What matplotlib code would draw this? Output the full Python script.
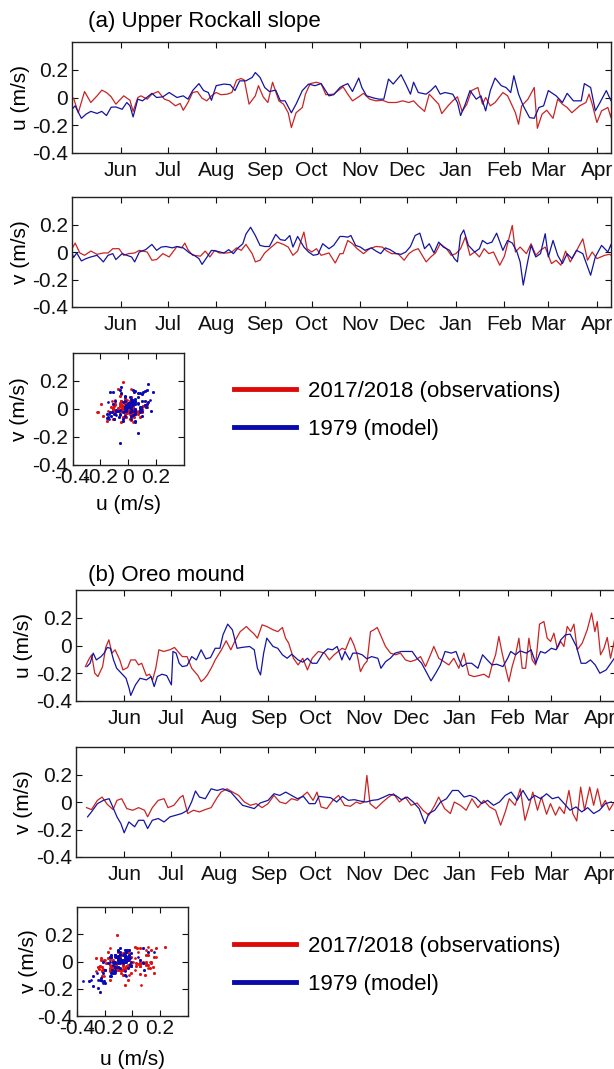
import numpy as np
import pandas as pd
import matplotlib
matplotlib.use('Agg')
import matplotlib.pyplot as plt
from matplotlib.lines import Line2D

plt.rcParams['font.family'] = ['Liberation Sans', 'DejaVu Sans']
plt.rcParams['axes.unicode_minus'] = False

# ---- data (days since 1 May, values in m/s) ----
START = pd.Timestamp('2017-05-01')
month_labels = ['Jun', 'Jul', 'Aug', 'Sep', 'Oct', 'Nov', 'Dec', 'Jan', 'Feb', 'Mar', 'Apr']
month_starts = ['2017-06-01', '2017-07-01', '2017-08-01', '2017-09-01', '2017-10-01',
                '2017-11-01', '2017-12-01', '2018-01-01', '2018-02-01', '2018-03-01',
                '2018-04-01']
value_ticks = [-0.4, -0.2, 0, 0.2]
value_ticklabels = ['-0.4', '-0.2', '0', '0.2']

# (a) Upper Rockall slope, u
au_obs_day = [0, 1, 4, 8, 12, 16, 19, 22, 25, 28, 33, 37, 39, 42, 44, 48, 51, 55, 59, 62,
              66, 69, 71, 74, 77, 80, 83, 86, 89, 92, 95, 99, 102, 105, 108, 110, 113, 117, 119, 122,
              125, 128, 132, 135, 138, 140, 143, 147, 149, 152, 156, 159, 162, 167, 171,
              173, 176, 179, 183, 186, 190, 194, 198, 202, 207, 211, 215, 218, 221, 225, 228, 231, 234, 236, 240,
              243, 246, 249, 252, 255, 259, 262, 264, 267, 270, 275, 278, 280, 283, 285, 287, 291, 295, 297, 300,
              303, 307, 310, 313, 316, 319, 324, 328, 330, 332, 335, 338, 342, 344, 346]
au_obs = [0, -0.005, -0.11, 0.043, -0.036, 0.012, 0.053, 0.036, 0.005, -0.048,
          0.012, -0.02, -0.10, 0.0, 0.012, -0.012, 0.024, 0.043, -0.012, -0.024,
          -0.06, -0.043, -0.092, -0.036, 0.036, 0.043, -0.005, -0.024, 0.012, 0.036,
          0.02, 0.024, 0.036, 0.125, 0.137, 0.125, -0.048, 0.012, 0.085, 0.005,
          -0.036, 0.11, -0.024, -0.048, -0.11, -0.217, -0.11, -0.072, 0.024, 0.10,
          0.11, 0.10, 0.02, 0.024, 0.06,
          0.077, 0.024, -0.024, 0.005, 0.03, -0.012, -0.024, -0.02, -0.036, -0.036,
          -0.024, -0.036, -0.024, -0.06, -0.10, 0.024, -0.012, -0.048, -0.116, -0.06,
          -0.024, 0.005, -0.10, -0.048, 0.05, 0.072, -0.048, 0, -0.06, -0.036,
          0.036, 0.012, -0.036, -0.11, -0.193, -0.06, -0.012, 0.072, -0.222, -0.12,
          -0.092, -0.15, -0.012, -0.048, -0.072, -0.11, -0.06, -0.036, 0.024, -0.048,
          -0.18, -0.096, -0.072, -0.145, 0.05]
au_mod_day = [0, 2, 6, 9, 12, 16, 19, 22, 25, 28, 32, 35, 37, 39, 42, 45, 49, 51, 54, 58,
              62, 67, 71, 74, 77, 81, 84, 87, 89, 92, 97, 101, 104, 107, 111, 115, 117, 120, 123, 126,
              130, 133, 136, 140, 143, 147, 151, 155, 159, 164, 167, 171,
              173, 176, 179, 183, 185, 188, 193, 196, 199, 202, 205, 210, 213, 216, 218, 221, 226, 229, 232, 235,
              238, 243, 246, 248, 251, 254, 258, 261, 264, 267, 270, 274, 277, 280, 282, 285, 288, 292, 295, 298,
              301, 304, 309, 313, 316, 320, 325, 327, 331, 334, 337, 341, 344, 347]
au_mod = [-0.085, -0.06, -0.15, -0.12, -0.10, -0.115, -0.10, -0.13, -0.07, -0.068,
          -0.085, -0.036, -0.06, -0.14, -0.012, -0.024, 0.012, 0.03, 0.0, 0.005,
          0.036, 0.0, 0.012, -0.012, 0.05, 0.10, 0.05, 0.036, -0.02, 0.085,
          0.097, 0.092, 0.05, 0.12, 0.12, 0.145, 0.18, 0.145, 0.072, 0.043,
          0.053, -0.024, -0.024, -0.11, -0.048, 0.05, 0.097, 0.085, 0.10, 0.012,
          0.02, 0.072,
          0.085, 0.10, 0.043, 0.14, 0.072, 0.012, -0.005, -0.012, -0.012, 0.133,
          0.097, 0.164, 0.097, 0.024, 0.11, 0.036, 0.024, 0.05, 0.085, 0.024,
          0.036, 0.024, -0.036, -0.13, -0.048, 0.05, -0.012, 0.012, -0.096, 0.05,
          0.14, 0.085, 0.072, 0.036, 0.157, 0.024, -0.06, -0.145, -0.15, -0.072,
          -0.06, 0.05, 0.012, -0.036, 0.03, -0.024, -0.024, 0.10, 0.072, -0.096,
          -0.036, 0.05, -0.024, 0.05]

# (a) Upper Rockall slope, v
av_obs_day = [0, 2, 5, 8, 12, 16, 20, 23, 26, 30, 33, 36, 40, 43, 48, 51, 54, 58, 62, 67,
              70, 72, 74, 77, 82, 85, 88, 91, 94, 99, 102, 105, 108, 111, 115, 117, 120, 123, 126, 131,
              135, 138, 141, 144, 148, 150, 153, 156, 159, 164, 168, 171,
              173, 176, 179, 182, 186, 190, 194, 198, 201, 204, 208, 212, 215, 218, 221, 226, 229, 232, 235, 239,
              242, 245, 248, 251, 254, 257, 260, 263, 266, 269, 273, 276, 278, 281, 283, 286, 290, 293, 296, 299,
              302, 306, 309, 312, 315, 318, 321, 326, 329, 332, 335, 340, 343, 346]
av_obs = [0.024, 0.065, -0.007, -0.024, 0.007, -0.017, -0.007, -0.007, 0.024, 0.024,
          -0.024, -0.012, -0.007, 0.012, 0, -0.06, -0.055, -0.012, -0.036, 0.04,
          0.03, 0.065, 0.017, -0.024, -0.03, 0.007, -0.036, 0.012, -0.007, -0.007,
          0, 0.03, 0.012, 0.055, -0.012, -0.072, -0.06, -0.007, 0.024, 0.072,
          0.055, 0.036, -0.024, 0.007, 0.145, 0.024, 0, 0.024, -0.024, -0.007,
          -0.08, -0.012,
          -0.012, 0.084, 0.06, 0.024, -0.012, 0.024, 0.04, 0.036, 0.007, -0.012,
          -0.012, -0.06, -0.012, 0.012, 0.024, -0.072, -0.036, -0.007, 0.06, 0.024,
          -0.024, -0.012, 0.024, 0.108, -0.024, 0, -0.036, 0.024, -0.012, 0,
          -0.096, -0.03, 0.06, 0.193, 0, 0.036, -0.012, 0.06, -0.024, 0.012,
          0.036, -0.084, -0.06, -0.096, 0.007, -0.072, -0.012, 0.096, -0.06, 0,
          -0.048, -0.024, -0.017, -0.036]
av_mod_day = [0, 1, 3, 6, 9, 12, 16, 20, 23, 26, 28, 32, 35, 38, 40, 43, 47, 51, 54, 57,
              60, 64, 67, 71, 75, 78, 81, 83, 86, 89, 92, 97, 100, 103, 106, 109, 111, 114, 117, 120,
              123, 126, 130, 133, 136, 139, 141, 144, 148, 151, 154, 157, 160, 164, 167, 171,
              173, 176, 178, 181, 184, 187, 191, 194, 197, 200, 203, 207, 210, 213, 216, 219, 222, 225, 228, 231,
              234, 237, 241, 244, 246, 248, 250, 253, 257, 260, 262, 265, 268, 271, 275, 278, 281, 284, 286, 288,
              291, 293, 296, 299, 302, 304, 307, 310, 313, 316, 319, 322, 326, 331, 334, 338, 342, 344, 346]
av_mod = [-0.007, -0.04, -0.007, -0.065, -0.048, -0.036, -0.024, -0.072, -0.024, -0.012,
          -0.055, -0.012, -0.024, -0.036, -0.072, 0, 0.017, 0.055, 0.012, 0.036,
          0.04, 0.03, 0.04, 0.03, -0.007, -0.024, -0.048, -0.09, -0.04, 0.012,
          0.007, -0.007, 0.017, -0.012, 0.03, 0.06, 0.13, 0.18, 0.12, 0.048,
          0.04, 0.04, 0.128, 0.09, 0.084, 0.12, 0.036, 0.113, 0.036, 0,
          -0.024, -0.017, 0.06, 0.024, 0.048, 0.113,
          0.113, 0.108, 0.12, 0.048, 0.036, 0.012, 0.03, 0.007, -0.012, 0.03,
          0.017, -0.012, -0.017, 0, 0.04, 0.12, 0.137, 0.024, 0.06, -0.007,
          0.072, 0.036, 0.012, -0.048, -0.072, 0.12, 0.16, 0.048, 0, 0.024,
          0.084, 0.06, 0.072, 0.137, 0.012, 0.084, 0.065, 0, -0.072, -0.24,
          -0.06, 0.048, -0.036, -0.012, 0.133, -0.036, 0.084, -0.024, -0.084, -0.012,
          -0.048, 0.012, -0.012, -0.169, -0.036, 0.048, 0, 0.055, -0.084]

# (b) Oreo mound, u
bu_obs_day = [6, 8, 10, 12, 14, 17, 19, 21, 23, 25, 28, 30, 33, 35, 38, 40, 42, 45, 47, 49,
              51, 53, 56, 60, 63, 66, 68, 71, 74, 78, 80, 82, 84, 87, 89, 93, 96, 99, 102, 105,
              109, 111, 114, 116, 119, 122, 126, 129, 132, 134, 136, 139, 142, 145, 148, 151, 155, 159, 162, 165,
              170.2, 172.3, 175.5, 177.7, 179.8, 181.9, 184.1, 186.2, 188.3, 190.5,
              192.6, 194.7, 197.9, 201.1, 204.3, 207.5, 210.7, 213.9, 217.1, 220.3,
              223.5, 226.7, 228.8, 232.0, 235.2, 238.4, 241.6, 244.8, 248.0, 251.2,
              254.4, 257.6, 260.8, 264.0, 266.1, 268.3, 270.4, 272.5, 274.7, 276.8,
              278.9, 281.1, 283.2, 285.3, 287.5, 289.6, 291.7, 293.9, 296.4, 299.2,
              301.3, 303.5, 305.6, 307.7, 309.9, 312.0, 314.1, 316.3, 318.4, 320.5,
              323.7, 326.9, 329.7, 331.8, 333.3, 335.4, 337.6, 339.7, 341.8, 344.6]
bu_obs = [-0.152, -0.104, -0.067, -0.2, -0.224, -0.152, -0.014, 0.041, -0.055, -0.031,
          -0.104, -0.176, -0.159, -0.104, -0.104, -0.14, -0.128, -0.217, -0.207, -0.248,
          -0.164, -0.031, -0.043, -0.031, -0.014, -0.055, -0.08, -0.08, -0.164, -0.217,
          -0.26, -0.241, -0.212, -0.152, -0.104, -0.031, 0.034, -0.031, 0.041, 0.10,
          0.137, 0.113, 0.082, 0.053, 0.149, 0.137, 0.113, 0.10, 0.13, 0.053,
          0.017, -0.092, -0.14, -0.092, -0.176, -0.092, -0.043, -0.055, -0.104, -0.067,
          -0.02, -0.031, 0.058, 0.005, -0.067, -0.188, -0.14, -0.111, 0.10, 0.113,
          0.13, 0.077, -0.007, -0.055, -0.067, -0.055, -0.104, -0.116, -0.104, -0.08,
          -0.152, -0.067, -0.007, -0.092, -0.116, -0.14, -0.092, -0.164, -0.055, -0.212,
          -0.224, -0.217, -0.207, -0.231, -0.14, -0.067, 0.065, -0.055, -0.164, -0.26,
          -0.152, -0.067, 0.053, -0.164, -0.164, 0.053, -0.104, -0.14, 0.154, 0.173,
          0.053, 0.029, 0.089, -0.02, 0.029, -0.007, 0.137, 0.10, 0.154, -0.031,
          0.017, 0.113, 0.234, 0.10, 0.173, -0.067, -0.02, 0.058, -0.092, 0.053]
bu_mod_day = [7, 9, 11, 13, 16, 18, 20, 22, 24, 26, 29, 32, 34, 35, 38, 41, 45, 48, 50, 52,
              55, 58, 61, 62, 64, 66, 68, 71, 74, 77, 80, 83, 86, 89, 92, 94, 97, 100, 103, 106,
              111, 114, 116, 118, 120, 122, 126, 129, 132, 135, 138, 142, 145, 148, 151, 154, 158, 161, 164, 167,
              170, 172, 175, 177, 180, 183, 186, 189, 193, 195, 198, 201, 204, 208, 212, 215, 218, 221, 225, 227,
              230, 233, 236, 240, 243, 245, 247, 250, 253, 257, 260, 263, 266, 269, 273, 276, 278, 281, 284, 288,
              291, 294, 297, 300, 304, 307, 310, 313, 316, 320, 323, 326, 329, 332, 335, 339, 342, 345]
bu_mod = [-0.152, -0.128, -0.055, -0.104, -0.08, -0.055, -0.014, -0.02, -0.104, -0.164,
          -0.2, -0.236, -0.31, -0.36, -0.284, -0.236, -0.248, -0.224, -0.296, -0.224,
          -0.207, -0.217, -0.284, -0.043, -0.055, -0.128, -0.152, -0.145, -0.08, -0.104,
          -0.031, -0.096, -0.087, -0.02, -0.02, 0.077, 0.154, 0.113, -0.02, -0.014,
          -0.007, -0.031, -0.164, -0.212, -0.055, 0.053, -0.007, -0.02, -0.067, -0.092,
          -0.063, -0.104, -0.12, -0.092, -0.128, -0.128, -0.055, -0.024, -0.031, -0.007,
          -0.104, -0.043, -0.104, -0.055, -0.055, -0.067, -0.096, -0.08, -0.092, -0.164,
          -0.116, -0.092, -0.055, -0.043, -0.043, -0.043, -0.092, -0.128, -0.212, -0.255,
          -0.2, -0.14, -0.043, -0.055, -0.043, -0.104, -0.152, -0.128, -0.128, -0.164,
          -0.067, -0.104, -0.14, -0.135, -0.152, -0.092, -0.043, -0.067, -0.039, -0.055,
          -0.031, -0.128, -0.043, -0.055, -0.02, -0.031, 0.041, 0.077, 0.082, -0.007,
          -0.128, -0.128, -0.104, -0.14, -0.2, -0.176, -0.128, -0.08]

# (b) Oreo mound, v
bv_obs_day = [6.7, 9.9, 13.7, 16.7, 20.0, 23.7, 26.2, 29.2, 32.5, 36.3,
              40.0, 43.8, 45.8, 48.8, 52.6, 56.3, 58.8, 62.6, 66.4, 68.4,
              71.4, 75.1, 78.9, 82.7, 86.4, 90.2, 92.7, 96.5, 100.2, 104.0,
              107.7, 111.5, 115.3, 119.0, 122.8, 126.6, 130.3, 134.1, 137.8, 141.6,
              145.4, 147.9, 151.6, 154.1, 156.7, 160.4, 164.2, 167.9, 171.7, 175.5,
              179.2, 181.7, 184.2, 186.0, 188.0, 191.8, 195.5, 199.3, 203.1, 206.8,
              210.6, 214.3, 218.1, 221.9, 225.6, 229.4, 231.9, 235.7, 239.4, 241.9,
              245.7, 249.5, 253.2, 257.0, 260.7, 264.5, 268.3, 271.5, 274.5, 277.0,
              280.8, 284.1, 287.1, 289.6, 292.1, 295.1, 297.6, 300.9, 303.4, 306.6,
              309.1, 312.2, 315.2, 317.7, 320.2, 322.7, 325.2, 328.5, 331.0, 333.5,
              336.0, 338.5, 341.0, 343.5]
bv_obs = [-0.041, -0.055, 0.012, 0.036, -0.017, -0.055, 0.012, 0.024, -0.048, -0.06,
          -0.041, -0.06, -0.108, -0.041, 0.012, 0.024, -0.041, -0.024, 0.031, 0.048,
          -0.084, -0.06, -0.072, -0.055, -0.041, 0.031, 0.072, 0.096, 0.072, 0.048,
          0, -0.024, -0.012, -0.041, -0.012, 0.048, 0, -0.012, 0.024, 0.012,
          0.048, 0.072, 0.012, 0.072, -0.036, -0.048, 0.012, 0.048, -0.024, -0.031,
          0, -0.012, 0, 0.193, -0.012, -0.048, -0.007, 0.031, 0.06, 0,
          0.036, -0.024, -0.007, -0.06, -0.096, -0.024, 0.036, -0.048, -0.084, 0,
          -0.024, -0.06, 0.024, -0.041, 0.012, -0.036, -0.06, -0.169, -0.072, 0.024,
          -0.024, 0.096, -0.133, -0.036, 0.072, -0.06, 0.036, -0.089, -0.012, -0.096,
          -0.036, -0.084, 0.084, -0.084, -0.138, 0.108, -0.06, 0.108, -0.024, 0.096,
          -0.036, 0.012, -0.06, -0.012]
bv_mod_day = [7.4, 9.9, 13.7, 17.5, 21.2, 23.7, 26.2, 28.7, 30.8, 33.8,
              37.5, 40.0, 43.3, 45.8, 48.8, 52.6, 56.3, 60.1, 63.9, 67.6,
              71.4, 73.9, 76.4, 78.9, 82.7, 86.4, 90.2, 94.0, 99.0, 102.7,
              106.5, 110.3, 114.0, 117.8, 122.8, 126.6, 130.3, 134.1, 137.8, 141.6,
              145.4, 149.1, 152.9, 155.4, 159.2, 162.9, 166.7, 170.4, 174.2, 178.0,
              181.7, 185.5, 189.3, 193.0, 196.8, 200.5, 204.3, 208.1, 211.8, 215.6,
              219.4, 223.1, 225.6, 229.4, 233.1, 236.9, 240.7, 244.4, 248.2, 252.0,
              255.7, 259.5, 263.2, 267.0, 270.8, 274.5, 278.3, 282.1, 285.8, 289.6,
              293.3, 297.1, 300.9, 304.6, 308.4, 312.2, 315.9, 319.7, 323.4, 327.2,
              331.0, 334.7, 338.5, 342.2]
bv_mod = [-0.108, -0.072, -0.012, 0.012, 0.024, -0.041, -0.108, -0.157, -0.224, -0.145,
          -0.18, -0.133, -0.133, -0.193, -0.133, -0.12, -0.145, -0.108, -0.096, -0.084,
          -0.06, 0, 0.08, 0.036, 0.024, 0.096, 0.084, 0.096, 0.072, 0.024,
          -0.024, -0.036, -0.048, -0.007, 0.012, 0.06, 0.048, 0.072, 0.048, 0.024,
          0.041, -0.012, -0.012, 0.041, 0.036, 0.031, 0, 0.041, 0.012, 0.017,
          0.007, 0, 0.012, 0.017, 0.036, 0.055, 0.048, 0.017, 0.036, 0,
          -0.048, -0.157, -0.084, -0.06, 0, 0.024, 0.084, 0.084, 0.036, 0.048,
          0.031, -0.012, 0.012, -0.024, 0, 0.048, 0.072, 0.012, 0.084, 0.012,
          0.048, 0.024, 0.06, 0.024, 0.036, -0.012, -0.06, -0.036, -0.072, -0.041,
          -0.084, -0.06, -0.012, 0]

RED = '#c82424'
BLUE = '#1414a0'
RED_DOT = '#e01010'
BLUE_DOT = '#0a0ab4'
FS = 15

W, H = 614, 1069


def rect(l, t, r, b):
    return [l / W, 1 - b / H, (r - l) / W, (b - t) / H]


def to_dates(days):
    return START + pd.to_timedelta(np.asarray(days, dtype=float), unit='D')


def style_box(ax):
    for s in ax.spines.values():
        s.set_linewidth(1.0)
        s.set_color('#222222')
    ax.tick_params(direction='in', top=True, right=True, length=4, width=0.8,
                   labelsize=FS, pad=3, colors='#111111')


def series_panel(r, xmax, ylabel, obs_day, obs, mod_day, mod, ylab_x):
    ax = fig.add_axes(r)
    ax.plot(to_dates(obs_day), obs, color=RED, lw=0.9)
    ax.plot(to_dates(mod_day), mod, color=BLUE, lw=0.9)
    ax.set_xlim(START, START + pd.Timedelta(days=xmax))
    ax.set_ylim(-0.4, 0.4)
    ax.set_yticks(value_ticks)
    ax.set_yticklabels(value_ticklabels)
    ax.set_xticks(pd.to_datetime(month_starts))
    ax.set_xticklabels(month_labels)
    style_box(ax)
    ax.tick_params(axis='x', pad=6)
    ax.set_ylabel(ylabel, fontsize=FS)
    ax.yaxis.set_label_coords(ylab_x, 0.5)
    return ax


def pair_nearest(u_day, u, v_day, v):
    # pair each reading of one component with the nearest-in-time reading of the other
    u_day, u, v_day, v = map(np.asarray, (u_day, u, v_day, v))
    iu = np.abs(v_day[None, :] - u_day[:, None]).argmin(axis=1)
    iv = np.abs(u_day[None, :] - v_day[:, None]).argmin(axis=1)
    return np.r_[u, u[iv]], np.r_[v[iu], v]


def scatter_panel(r, u_obs, v_obs, u_mod, v_mod, ylab_x, xlab_y):
    ax = fig.add_axes(r)
    ax.scatter(u_obs, v_obs, s=4, color=RED_DOT, linewidths=0)
    ax.scatter(u_mod, v_mod, s=4, color=BLUE_DOT, linewidths=0)
    ax.set_xlim(-0.4, 0.4)
    ax.set_ylim(-0.4, 0.4)
    ax.set_xticks(value_ticks)
    ax.set_xticklabels(value_ticklabels)
    ax.set_yticks(value_ticks)
    ax.set_yticklabels(value_ticklabels)
    style_box(ax)
    ax.tick_params(axis='x', pad=2)
    ax.set_xlabel('u (m/s)', fontsize=FS)
    ax.set_ylabel('v (m/s)', fontsize=FS)
    ax.xaxis.set_label_coords(0.5, xlab_y)
    ax.yaxis.set_label_coords(ylab_x, 0.5)
    return ax


fig = plt.figure(figsize=(W / 100, H / 100), dpi=100)

# (a)
fig.text(88 / W, 1 - 21 / H, '(a) Upper Rockall slope', fontsize=16, va='center', ha='left')
series_panel(rect(72, 42, 611, 153), 344, 'u (m/s)', au_obs_day, au_obs, au_mod_day, au_mod, -0.077)
series_panel(rect(72, 197, 611, 307), 344, 'v (m/s)', av_obs_day, av_obs, av_mod_day, av_mod, -0.077)
uo, vo = pair_nearest(au_obs_day, au_obs, av_obs_day, av_obs)
um, vm = pair_nearest(au_mod_day, au_mod, av_mod_day, av_mod)
scatter_panel(rect(72.5, 353, 183.5, 465), uo, vo, um, vm, -0.39, -0.27)

# (b)
fig.text(88 / W, 1 - 575 / H, '(b) Oreo mound', fontsize=16, va='center', ha='left')
series_panel(rect(76, 590, 616, 701), 345.3, 'u (m/s)', bu_obs_day, bu_obs, bu_mod_day, bu_mod, -0.080)
series_panel(rect(76, 747, 616, 857), 345.3, 'v (m/s)', bv_obs_day, bv_obs, bv_mod_day, bv_mod, -0.080)
uo, vo = pair_nearest(bu_obs_day, bu_obs, bv_obs_day, bv_obs)
um, vm = pair_nearest(bu_mod_day, bu_mod, bv_mod_day, bv_mod)
scatter_panel(rect(77, 907, 187.5, 1016), uo, vo, um, vm, -0.35, -0.31)

handles = [Line2D([], [], color='#dd0a0a', lw=3.5), Line2D([], [], color='#0a0aaa', lw=3.5)]
labels = ['2017/2018 (observations)', '1979 (model)']
for top in (381, 936):
    fig.legend(handles, labels, loc='upper left', bbox_to_anchor=(234 / W, 1 - top / H),
               frameon=False, fontsize=16, handlelength=2.8, handletextpad=0.55,
               labelspacing=0.75, borderpad=0, borderaxespad=0)

fig.savefig('out.png', dpi=100)
